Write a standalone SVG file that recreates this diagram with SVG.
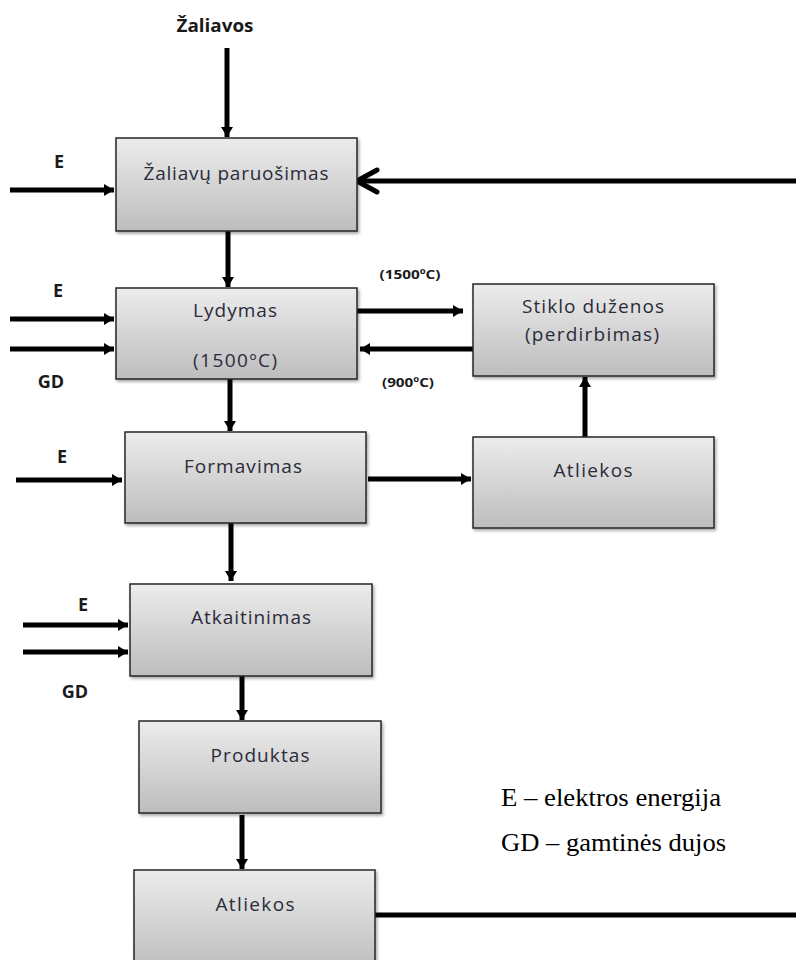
<svg xmlns="http://www.w3.org/2000/svg" width="796" height="960" viewBox="0 0 796 960">
<defs>
<linearGradient id="g" x1="0" y1="0" x2="0" y2="1">
<stop offset="0" stop-color="#ececec"/>
<stop offset="1" stop-color="#bdbdbd"/>
</linearGradient>
<filter id="sh" x="-5%" y="-5%" width="115%" height="120%">
<feDropShadow dx="1.5" dy="2" stdDeviation="1.5" flood-color="#000" flood-opacity="0.35"/>
</filter>
<marker id="ah" markerUnits="userSpaceOnUse" markerWidth="11" markerHeight="14" viewBox="0 0 11 14" refX="10" refY="7" orient="auto">
<path d="M0,1 L10,7 L0,13 Z" fill="#000"/>
</marker>
<marker id="open" markerUnits="userSpaceOnUse" markerWidth="28" markerHeight="30" viewBox="0 0 28 30" refX="25" refY="15" orient="auto">
<path d="M4,4 L24,15 L4,26" fill="none" stroke="#000" stroke-width="5" stroke-linecap="round" stroke-linejoin="round"/>
</marker>
</defs>
<style>
.box{fill:url(#g);stroke:#262626;stroke-width:1.5;filter:url(#sh)}
.t{font-family:"Open Sans","Liberation Sans",sans-serif;font-size:19px;fill:#2b2b3a;text-anchor:middle}
.lb{font-family:"Open Sans","Liberation Sans",sans-serif;font-size:18px;font-weight:bold;fill:#1a1a1a;text-anchor:middle}
.sm{font-family:"Open Sans","Liberation Sans",sans-serif;font-size:13px;font-weight:bold;fill:#1a1a1a;text-anchor:middle}
.lg{font-family:"Liberation Serif",serif;font-size:25px;fill:#000}
.c{stroke:#000;stroke-width:5;fill:none}
.ca{stroke:#000;stroke-width:5;fill:none;marker-end:url(#ah)}
</style>

<g id="connectors">
<line class="ca" x1="227" y1="48" x2="227" y2="137"/>
<line class="ca" x1="10" y1="190" x2="114" y2="190"/>
<line x1="796" y1="181" x2="356" y2="181" stroke="#000" stroke-width="5" marker-end="url(#open)"/>
<line class="ca" x1="228" y1="231" x2="228" y2="287"/>
<line class="ca" x1="10" y1="319" x2="114" y2="319"/>
<line class="ca" x1="10" y1="349" x2="114" y2="349"/>
<line class="ca" x1="354" y1="311" x2="463" y2="311"/>
<line class="ca" x1="476" y1="349" x2="360" y2="349"/>
<line class="ca" x1="230" y1="379" x2="230" y2="431"/>
<line class="ca" x1="16" y1="480" x2="122" y2="480"/>
<line class="ca" x1="368" y1="479" x2="471" y2="479"/>
<line class="ca" x1="585" y1="437" x2="585" y2="377"/>
<line class="ca" x1="231" y1="523" x2="231" y2="581"/>
<line class="ca" x1="23" y1="625" x2="128" y2="625"/>
<line class="ca" x1="23" y1="652" x2="128" y2="652"/>
<line class="ca" x1="242" y1="668" x2="242" y2="720"/>
<line class="ca" x1="242" y1="815" x2="242" y2="869"/>
<line class="c" x1="375" y1="915" x2="796" y2="915"/>
</g>

<g id="n-zaliavu">
<rect class="box" x="116" y="138" width="241" height="93"/>
<text class="t" x="236" y="180" textLength="185" lengthAdjust="spacing">Žaliavų paruošimas</text>
</g>
<g id="n-lydymas">
<rect class="box" x="116" y="288" width="241" height="91"/>
<text class="t" x="235" y="317" textLength="84" lengthAdjust="spacing">Lydymas</text>
<text class="t" x="235" y="367" textLength="84" lengthAdjust="spacing">(1500ºC)</text>
</g>
<g id="n-stiklo">
<rect class="box" x="473" y="284" width="241" height="92"/>
<text class="t" x="593" y="313" textLength="142" lengthAdjust="spacing">Stiklo duženos</text>
<text class="t" x="592" y="341" textLength="134" lengthAdjust="spacing">(perdirbimas)</text>
</g>
<g id="n-formavimas">
<rect class="box" x="125" y="432" width="241" height="91"/>
<text class="t" x="243" y="473" textLength="118" lengthAdjust="spacing">Formavimas</text>
</g>
<g id="n-atliekos1">
<rect class="box" x="473" y="437" width="241" height="91"/>
<text class="t" x="593" y="477" textLength="79" lengthAdjust="spacing">Atliekos</text>
</g>
<g id="n-atkaitinimas">
<rect class="box" x="130" y="584" width="242" height="92"/>
<text class="t" x="251" y="624" textLength="120" lengthAdjust="spacing">Atkaitinimas</text>
</g>
<g id="n-produktas">
<rect class="box" x="139" y="721" width="242" height="92"/>
<text class="t" x="260" y="762" textLength="99" lengthAdjust="spacing">Produktas</text>
</g>
<g id="n-atliekos2">
<rect class="box" x="134" y="870" width="241" height="100"/>
<text class="t" x="255" y="911" textLength="79" lengthAdjust="spacing">Atliekos</text>
</g>

<g id="labels">
<text class="lb" x="215" y="32" textLength="77" lengthAdjust="spacingAndGlyphs">Žaliavos</text>
<text class="lb" x="59" y="168">E</text>
<text class="lb" x="58" y="297">E</text>
<text class="lb" x="51" y="388">GD</text>
<text class="lb" x="62" y="463">E</text>
<text class="lb" x="83" y="611">E</text>
<text class="lb" x="75" y="698">GD</text>
<text class="sm" x="410" y="279" textLength="61" lengthAdjust="spacingAndGlyphs">(1500ºC)</text>
<text class="sm" x="408" y="387" textLength="52" lengthAdjust="spacingAndGlyphs">(900ºC)</text>
<text class="lg" x="501" y="806" textLength="220" lengthAdjust="spacingAndGlyphs">E – elektros energija</text>
<text class="lg" x="501" y="851" textLength="225" lengthAdjust="spacingAndGlyphs">GD – gamtinės dujos</text>
</g>
</svg>
